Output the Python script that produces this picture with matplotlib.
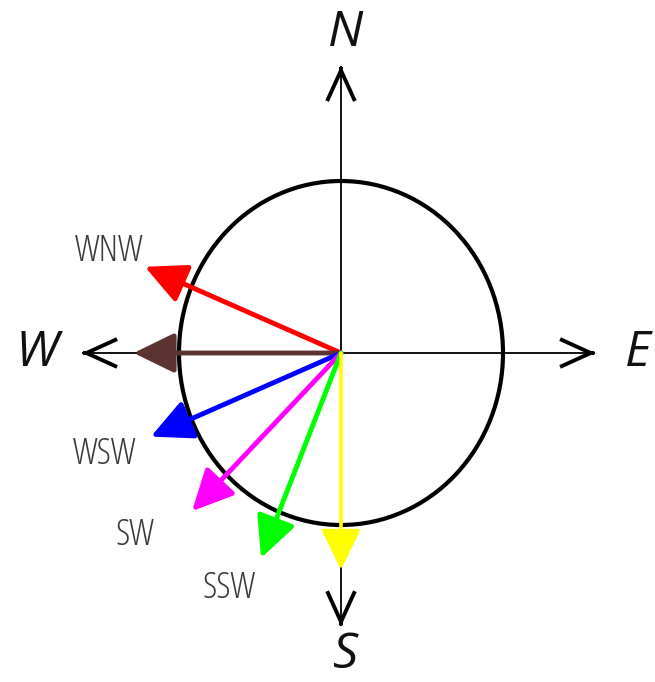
import numpy as np
import matplotlib
matplotlib.use("Agg")
import matplotlib.pyplot as plt
from matplotlib.patches import Ellipse

# Data: wind directions (math angle in degrees) and arrow lengths (circle radius = 1)
dir_labels = ["WNW", "W", "WSW", "SW", "SSW", "S"]
dir_angles = [157.5, 180.0, 202.5, 225.0, 247.5, 270.0]
dir_lengths = [1.31, 1.28, 1.27, 1.30, 1.29, 1.26]
dir_colors = ["#ff0000", "#5b3432", "#0000ff", "#ff00ff", "#00ff00", "#ffff00"]
show_label = [True, False, True, True, True, False]

compass_labels = ["N", "E", "S", "W"]
compass_angles = [90.0, 0.0, 270.0, 180.0]
compass_lengths = [1.67, 1.57, 1.59, 1.60]

fig = plt.figure(figsize=(6.55, 6.82), dpi=100)
ax = fig.add_axes([0, 0, 1, 1])
ax.set_xlim(-341 / 162, (655 - 341) / 162)
ax.set_ylim(-(682 - 353) / 172, 353 / 172)
ax.axis("off")

# circle
ax.add_patch(Ellipse((0, 0), 2, 2, fill=False, lw=3.0, ec="black", zorder=2))

# compass axes
for ang, ln in zip(compass_angles, compass_lengths):
    a = np.deg2rad(ang)
    tx, ty = ln * np.cos(a), ln * np.sin(a)
    ax.plot([0, tx], [0, ty], color="black", lw=1.3, zorder=1, solid_capstyle="butt")
    ex, ey = (ln - 0.01) * np.cos(a), (ln - 0.01) * np.sin(a)
    ax.annotate("", xy=(tx, ty), xytext=(ex, ey),
                arrowprops=dict(arrowstyle="->,head_length=1.1,head_width=0.5",
                                lw=2.8, color="black", shrinkA=0, shrinkB=0,
                                mutation_scale=20, joinstyle="miter", capstyle="butt"),
                zorder=1)

# colored wind arrows
for lab, ang, ln, col in zip(dir_labels, dir_angles, dir_lengths, dir_colors):
    a = np.deg2rad(ang)
    tx, ty = ln * np.cos(a), ln * np.sin(a)
    lw = 3.5 if lab != "S" else 2.6
    ax.annotate("", xy=(tx, ty), xytext=(0, 0),
                arrowprops=dict(arrowstyle="-|>,head_length=0.9,head_width=0.44",
                                lw=lw, color=col, shrinkA=0, shrinkB=0,
                                mutation_scale=28),
                zorder=3)

# direction labels
label_pos = {"WNW": (-1.43, 0.59), "WSW": (-1.46, -0.59),
             "SW": (-1.27, -1.06), "SSW": (-0.69, -1.37)}
for lab, show in zip(dir_labels, show_label):
    if show:
        x, y = label_pos[lab]
        ax.text(x, y, lab, ha="center", va="center", fontsize=26,
                fontstretch="condensed", color="#3a3a3a",
                family=["Open Sans", "DejaVu Sans"])

compass_pos = {"N": (0.025, 1.86), "S": (0.025, -1.76),
               "W": (-1.877, 0.0), "E": (1.83, 0.0)}
for lab in compass_labels:
    x, y = compass_pos[lab]
    ax.text(x, y, lab, ha="center", va="center", fontsize=36, style="italic",
            color="#111111", family=["Open Sans", "DejaVu Sans"])

fig.savefig("out.png", dpi=100)
